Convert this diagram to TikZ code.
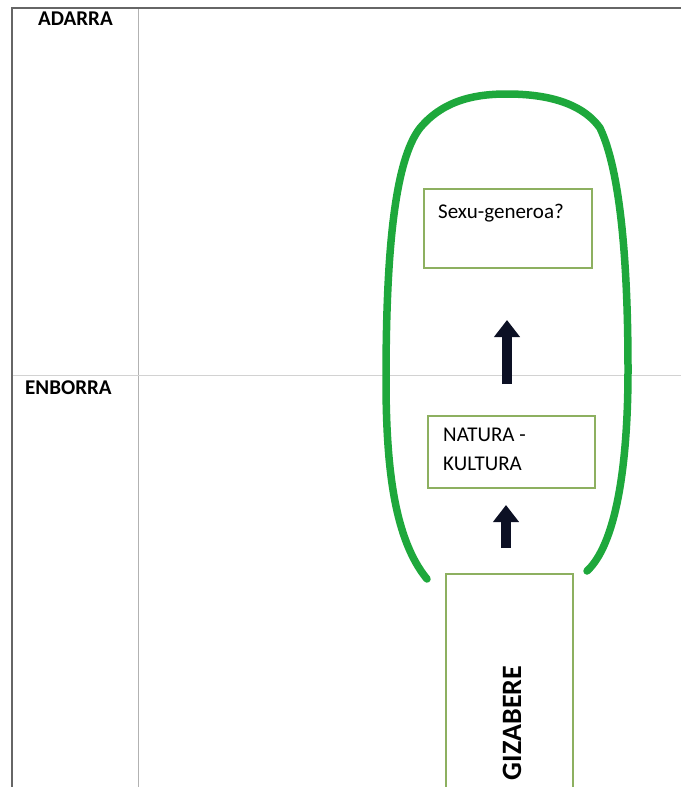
\documentclass[tikz,border=0pt]{standalone}
\usepackage{fontspec}
\setmainfont{Carlito}
\usetikzlibrary{arrows.meta}
\definecolor{loopgreen}{HTML}{1EA83C}
\definecolor{boxline}{HTML}{8DB060}
\definecolor{arrowblue}{HTML}{0C1024}
\tikzset{
  framebox/.style={draw=boxline, line width=1.4pt, fill=white},
  rowlabel/.style={font=\fontsize{21}{24}\selectfont\bfseries, anchor=north west, inner sep=0pt},
  boxtext/.style={font=\fontsize{21}{29}\selectfont, anchor=north west, inner sep=0pt, align=left},
  bigarrow/.style={draw=arrowblue, line width=10pt, -{Triangle[width=25pt,length=17pt]}},
}
\begin{document}
\begin{tikzpicture}[x=1pt,y=-1pt]
\useasboundingbox (0,0) rectangle (681,787);
% table lines
\draw[gray!60, line width=0.8pt] (138,8) -- (138,787);
\draw[gray!35, line width=1pt] (12,375) -- (681,375);
\draw[gray!80!black, line width=1.2pt] (12,787) -- (12,8) -- (681,8);
% row labels
\node[rowlabel] (adarra) at (38,12) {ADARRA};
\node[rowlabel] (enborra) at (25,381) {ENBORRA};
% green loop
\draw[loopgreen, line width=7.5pt, line cap=round]
  (427,579) .. controls (395,540) and (386,470) .. (386,380)
  .. controls (386,250) and (395,160) .. (420,128)
  .. controls (445,98) and (480,94) .. (507,94)
  .. controls (540,94) and (580,100) .. (600,128)
  .. controls (620,170) and (628,260) .. (628,370)
  .. controls (628,470) and (615,545) .. (587,571);
% boxes
\draw[framebox] (424,189) rectangle (592,268);
\node[boxtext] (sexu) at (438,204) {Sexu-generoa?};
\draw[framebox] (428,416) rectangle (595,488);
\node[boxtext] (natura) at (443,428) {NATURA -\\KULTURA};
\draw[framebox] (446,574) rectangle (573,800);
\node[font=\fontsize{28}{32}\selectfont\bfseries, rotate=90, inner sep=0pt] (gizabere) at (512,723) {GIZABERE};
% arrows
\coordinate (a1s) at (507,384);
\coordinate (a1e) at (507,320);
\coordinate (a2s) at (506,548);
\coordinate (a2e) at (506,505);
\draw[bigarrow] (a1s) -- (a1e);
\draw[bigarrow] (a2s) -- (a2e);
\end{tikzpicture}
\end{document}
